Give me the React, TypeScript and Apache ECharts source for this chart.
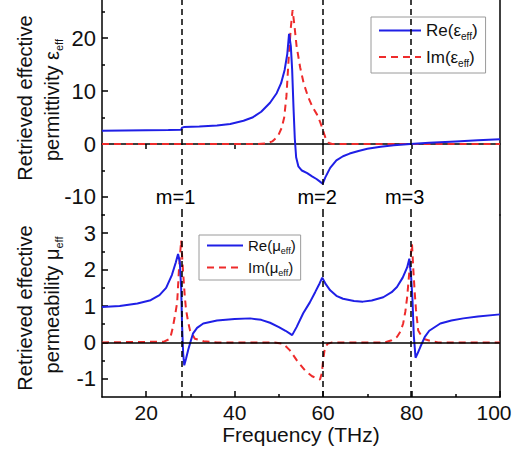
import React, { useEffect, useRef } from "react";
import * as echarts from "echarts";

// ---------- data ----------
const epsRe: [number, number][] = [
  [10, 2.5], [15, 2.55], [20, 2.6], [25, 2.65], [27.9, 2.7], [28.1, 3.1], [28.5, 3.2], [32, 3.3],
  [36, 3.5], [39, 3.8], [42, 4.4], [44, 5.0], [46, 6.1], [48, 7.8], [49.5, 9.6], [50.5, 11.5],
  [51.3, 14], [51.9, 17], [52.3, 20.8], [52.7, 18.5], [53, 14], [53.3, 7], [53.6, 1], [53.9, -2.5],
  [54.4, -4.2], [55.2, -5.0], [56.4, -5.5], [57.5, -6.1], [58.5, -6.6], [59.3, -7.1], [59.9, -7.5],
  [60.5, -6.3], [61.6, -4.5], [63, -3.1], [64.5, -2.3], [66, -1.8], [68, -1.3], [70, -0.9],
  [73, -0.5], [76, -0.25], [79.7, 0], [84, 0.25], [90, 0.5], [95, 0.7], [100, 0.9],
];
const epsIm: [number, number][] = [
  [10, 0], [45, 0], [47, 0.1], [48.5, 0.5], [49.8, 1.5], [50.6, 3], [51.2, 5], [51.7, 9],
  [52.2, 16], [52.7, 22], [53.1, 25.3], [53.5, 22.5], [54, 18.5], [54.8, 14.5], [55.6, 11.5],
  [56.6, 8.9], [57.6, 7], [58.6, 5.6], [59.4, 4], [60, 2.5], [60.6, 1], [61.3, 0.2], [62, 0], [100, 0],
];
const muRe: [number, number][] = [
  [10, 0.97], [14, 1.0], [18, 1.07], [21, 1.16], [23, 1.3], [24.5, 1.5], [25.8, 1.85], [26.7, 2.2],
  [27.2, 2.43], [27.6, 2.2], [27.9, 1.5], [28.1, 0.5], [28.35, -0.3], [28.6, -0.63], [29, -0.45],
  [29.5, -0.2], [30.1, 0.05], [30.6, 0.25], [31.5, 0.4], [32.9, 0.52], [36, 0.6], [40, 0.64],
  [43.5, 0.66], [46, 0.62], [48, 0.54], [50, 0.42], [51.5, 0.32], [52.5, 0.24], [53, 0.2],
  [54, 0.42], [55.5, 0.8], [57, 1.1], [58.2, 1.38], [59.2, 1.62], [59.8, 1.78], [60.6, 1.6],
  [61.6, 1.43], [63, 1.28], [64.5, 1.2], [67, 1.14], [69, 1.12], [71, 1.15], [73.6, 1.24],
  [75.5, 1.38], [76.7, 1.52], [78, 1.78], [79, 2.06], [79.5, 2.3], [79.9, 1.8], [80.2, 1.2],
  [80.5, 0.2], [80.9, -0.42], [81.3, -0.32], [82, -0.12], [83, 0.15], [84, 0.32], [86.5, 0.52],
  [89, 0.6], [91.7, 0.66], [95, 0.71], [100, 0.77],
];
const muIm: [number, number][] = [
  [10, 0], [24, 0.02], [25.4, 0.1], [26, 0.4], [26.6, 0.8], [27, 1.1], [27.4, 2.0], [27.9, 2.8],
  [28.3, 2.0], [28.7, 1.3], [29, 0.9], [29.5, 0.55], [29.9, 0.33], [31, 0.1], [33, 0.03], [36, 0],
  [49, 0], [50.7, -0.03], [51.5, -0.1], [52.5, -0.22], [54.1, -0.5], [55.9, -0.77], [57.5, -0.93],
  [59.3, -1.02], [59.7, -0.85], [60, -0.5], [60.4, -0.15], [61, -0.04], [62, 0], [74, 0],
  [75.5, 0.06], [76.7, 0.15], [77.5, 0.3], [78.1, 0.52], [78.6, 0.85], [79, 1.24], [79.4, 1.8],
  [79.7, 2.25], [80.1, 2.7], [80.4, 2.0], [80.7, 1.4], [81, 0.9], [81.5, 0.33], [82.6, 0.1],
  [84.5, 0.03], [86, 0], [100, 0],
];
const resonanceFreq = [28, 60, 79.8];
const resonanceLabels = ["m=1", "m=2", "m=3"];
const xTicks = [20, 40, 60, 80, 100];
const xMinorTicks = [30, 50, 70, 90];
const epsTicks = [-10, 0, 10, 20];
const epsMinorTicks = [-5, 5, 15, 25];
const muTicks = [-1, 0, 1, 2, 3];
const muMinorTicks = [-0.5, 0.5, 1.5, 2.5, 3.5];

const BLUE = "#1f1fe6";
const RED = "#ee2b2b";
const FONT = "'Liberation Sans', Arial, sans-serif";
const TXT = "#111";

const subFmt = (name: string) => name.replace("_eff)", "{s|eff})");

export default function App() {
  const ref = useRef<HTMLDivElement>(null);
  useEffect(() => {
    if (!ref.current) return;
    const chart = echarts.init(ref.current, null, { renderer: "svg" });

    const X_MIN = 10, X_MAX = 100;
    const EPS_MIN = -13.4, EPS_MAX = 27.2;
    const MU_MIN = -1.5, MU_MAX = 3.5;
    const axisLineStyle = { color: "#000", width: 1.5 };

    const vLines = {
      silent: true,
      symbol: ["none", "none"],
      label: { show: false },
      lineStyle: { color: "#000", type: [6, 4], width: 1.5 },
      data: resonanceFreq.map((f) => ({ xAxis: f })),
    };

    const yMain = (grid: number, min: number, max: number, ticks: number[]) => ({
      type: "value", gridIndex: grid, position: "left", min, max,
      splitLine: { show: false },
      axisLine: { show: true, onZero: false, lineStyle: axisLineStyle },
      axisTick: { show: true, inside: true, length: 6, customValues: ticks, lineStyle: { color: "#000", width: 1.5 } },
      axisLabel: { show: true, customValues: ticks, fontSize: 22, fontFamily: FONT, color: TXT, margin: 6 },
    });
    const yMinor = (grid: number, min: number, max: number, ticks: number[]) => ({
      type: "value", gridIndex: grid, position: "left", min, max,
      splitLine: { show: false },
      axisLine: { show: false, onZero: false },
      axisTick: { show: true, inside: true, length: 3, customValues: ticks, lineStyle: { color: "#000", width: 1.5 } },
      axisLabel: { show: false },
    });
    const yRight = (grid: number, min: number, max: number) => ({
      type: "value", gridIndex: grid, position: "right", min, max,
      splitLine: { show: false },
      axisLine: { show: true, onZero: false, lineStyle: axisLineStyle },
      axisTick: { show: false },
      axisLabel: { show: false },
    });

    const legendCommon = {
      orient: "vertical",
      formatter: subFmt,
      borderColor: "#9a9a9a", borderWidth: 1, borderRadius: 0,
      selectedMode: false,
      itemStyle: { opacity: 0, borderWidth: 0 },
    };

    const option: any = {
      animation: false,
      textStyle: { fontFamily: FONT },
      grid: [
        { left: 102, right: 12, top: 0, height: 215, outerBoundsMode: "none", containLabel: false },
        { left: 102, right: 12, top: 215, height: 182, outerBoundsMode: "none", containLabel: false },
      ],
      xAxis: [
        {
          type: "value", gridIndex: 0, min: X_MIN, max: X_MAX,
          splitLine: { show: false },
          axisLine: { show: true, onZero: true, lineStyle: axisLineStyle },
          axisTick: { show: true, inside: false, length: 5, customValues: [20, 40, 60, 80], lineStyle: { color: "#000", width: 1.5 } },
          axisLabel: { show: false },
        },
        {
          type: "value", gridIndex: 1, min: X_MIN, max: X_MAX,
          splitLine: { show: false },
          axisLine: { show: true, onZero: false, lineStyle: axisLineStyle },
          axisTick: { show: true, inside: true, length: 6, customValues: xTicks, lineStyle: { color: "#000", width: 1.5 } },
          axisLabel: {
            show: true, customValues: xTicks, fontSize: 21, fontFamily: FONT, color: TXT, margin: 5,
            formatter: (v: number) => (v === X_MAX ? `{r|${v}}` : `${v}`),
            rich: { r: { fontSize: 21, fontFamily: FONT, color: TXT, padding: [0, 12, 0, 0] } },
          },
          name: "Frequency (THz)", nameLocation: "middle", nameGap: 22,
          nameTextStyle: { fontSize: 21, fontFamily: FONT, color: TXT },
        },
        {
          type: "value", gridIndex: 1, min: X_MIN, max: X_MAX, position: "bottom",
          splitLine: { show: false },
          axisLine: { show: false, onZero: false },
          axisTick: { show: true, inside: true, length: 3, customValues: xMinorTicks, lineStyle: { color: "#000", width: 1.5 } },
          axisLabel: { show: false },
        },
      ],
      yAxis: [
        yMain(0, EPS_MIN, EPS_MAX, epsTicks),
        yMinor(0, EPS_MIN, EPS_MAX, epsMinorTicks),
        yRight(0, EPS_MIN, EPS_MAX),
        yMain(1, MU_MIN, MU_MAX, muTicks),
        yMinor(1, MU_MIN, MU_MAX, muMinorTicks),
        yRight(1, MU_MIN, MU_MAX),
      ],
      legend: [
        {
          ...legendCommon,
          left: 371, top: 17,
          data: ["Re(ε_eff)", "Im(ε_eff)"],
          padding: [5, 8, 5, 7], itemWidth: 42, itemHeight: 14, itemGap: 7,
          textStyle: { fontSize: 17, fontFamily: FONT, color: TXT, rich: { s: { fontSize: 10, fontFamily: FONT, color: TXT, padding: [12, 0, 0, 0] } } },
        },
        {
          ...legendCommon,
          left: 199, top: 235,
          data: ["Re(μ_eff)", "Im(μ_eff)"],
          padding: [3, 5, 3, 7], itemWidth: 36, itemHeight: 12, itemGap: 5,
          textStyle: { fontSize: 15, fontFamily: FONT, color: TXT, rich: { s: { fontSize: 9, fontFamily: FONT, color: TXT, padding: [10, 0, 0, 0] } } },
        },
      ],
      graphic: [
        { type: "text", x: 25, y: 98, rotation: Math.PI / 2, style: { text: "Retrieved effective", font: `20px ${FONT}`, fill: TXT, align: "center", verticalAlign: "middle" } },
        { type: "text", x: 52, y: 100, rotation: Math.PI / 2, style: { text: "permittivity ε{s|eff}", font: `20px ${FONT}`, fill: TXT, align: "center", verticalAlign: "middle", rich: { s: { fontSize: 11, fontFamily: FONT, fill: TXT, padding: [14, 0, 0, 0] } } } },
        { type: "text", x: 25, y: 308, rotation: Math.PI / 2, style: { text: "Retrieved effective", font: `20px ${FONT}`, fill: TXT, align: "center", verticalAlign: "middle" } },
        { type: "text", x: 52, y: 305, rotation: Math.PI / 2, style: { text: "permeability μ{s|eff}", font: `20px ${FONT}`, fill: TXT, align: "center", verticalAlign: "middle", rich: { s: { fontSize: 11, fontFamily: FONT, fill: TXT, padding: [14, 0, 0, 0] } } } },
      ],
      series: [
        {
          name: "Im(ε_eff)", type: "line", xAxisIndex: 0, yAxisIndex: 0, data: epsIm,
          symbol: "none", color: RED, lineStyle: { color: RED, width: 2, type: [7, 5] }, z: 3,
        },
        {
          name: "Re(ε_eff)", type: "line", xAxisIndex: 0, yAxisIndex: 0, data: epsRe,
          symbol: "none", color: BLUE, lineStyle: { color: BLUE, width: 2 }, z: 4,
          markLine: vLines,
        },
        {
          name: "resonances", type: "scatter", xAxisIndex: 0, yAxisIndex: 0,
          data: resonanceFreq.map((f, i) => ({ value: [f, -10], name: resonanceLabels[i] })),
          symbol: "rect", symbolSize: [40, 20], symbolOffset: [-3, 0],
          itemStyle: { color: "#fff", opacity: 1 }, silent: true, z: 20,
          label: {
            show: true, position: "inside", offset: [-3, 0], formatter: (p: any) => p.name,
            fontSize: 20, fontFamily: FONT, color: "#000",
          },
        },
        {
          name: "Im(μ_eff)", type: "line", xAxisIndex: 1, yAxisIndex: 3, data: muIm,
          symbol: "none", color: RED, lineStyle: { color: RED, width: 2, type: [7, 5] }, z: 3,
        },
        {
          name: "Re(μ_eff)", type: "line", xAxisIndex: 1, yAxisIndex: 3, data: muRe,
          symbol: "none", color: BLUE, lineStyle: { color: BLUE, width: 2 }, z: 4,
          markLine: {
            ...vLines,
            data: [
              ...resonanceFreq.map((f) => ({ xAxis: f })),
              { yAxis: 0, lineStyle: { color: "#000", type: "solid", width: 1.5 } },
            ],
          },
        },
      ],
    };
    chart.setOption(option);
    return () => chart.dispose();
  }, []);
  return <div ref={ref} style={{ position: "fixed", left: 0, top: 0, width: 512, height: 454, background: "#fff" }} />;
}
